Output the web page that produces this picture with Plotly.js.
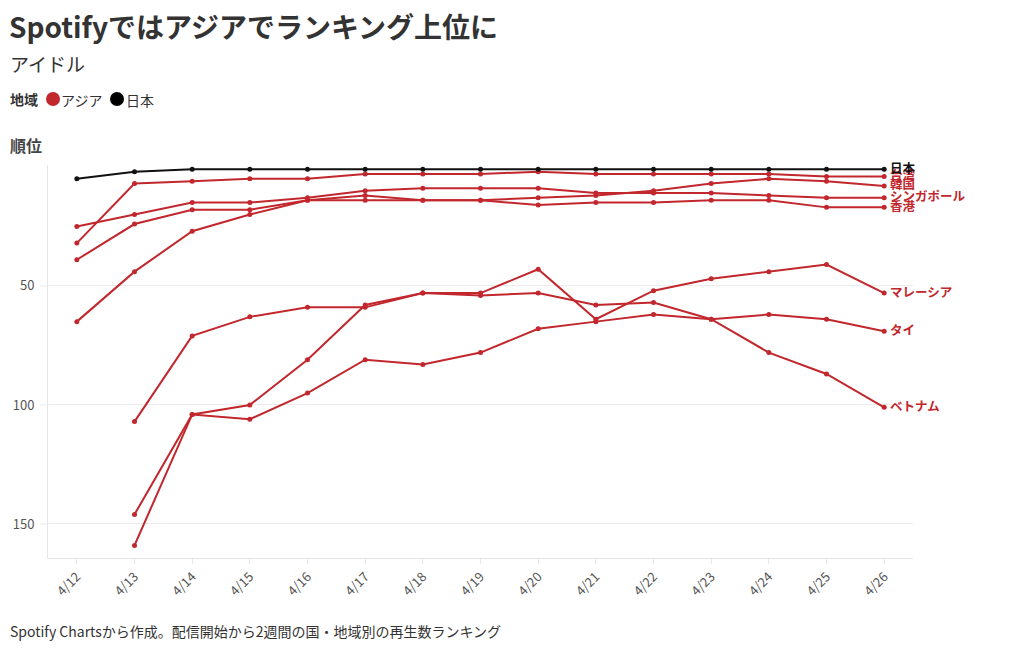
<!DOCTYPE html>
<html>
<head>
<meta charset="utf-8">
<script src="https://cdn.plot.ly/plotly-3.0.1.min.js"></script>
<style>
  html, body { margin: 0; padding: 0; background: #fff; }
  #chart { width: 1020px; height: 650px; }
</style>
</head>
<body>
<div id="chart"></div>
<script>
// ---- data (rank by date) ----
const dates = ['4/12','4/13','4/14','4/15','4/16','4/17','4/18','4/19','4/20','4/21','4/22','4/23','4/24','4/25','4/26'];
const japan     = [5, 2, 1, 1, 1, 1, 1, 1, 1, 1, 1, 1, 1, 1, 1];
const taiwan    = [32, 7, 6, 5, 5, 3, 3, 3, 2, 3, 3, 3, 3, 4, 4];
const korea     = [65, 44, 27, 20, 14, 12, 14, 14, 13, 12, 10, 7, 5, 6, 8];
const singapore = [25, 20, 15, 15, 13, 10, 9, 9, 9, 11, 11, 11, 12, 13, 13];
const hongkong  = [39, 24, 18, 18, 14, 14, 14, 14, 16, 15, 15, 14, 14, 17, 17];
const malaysia  = [null, 107, 71, 63, 59, 59, 53, 53, 43, 64, 52, 47, 44, 41, 53];
const thailand  = [null, 159, 104, 106, 95, 81, 83, 78, 68, 65, 62, 64, 62, 64, 69];
const vietnam   = [null, 146, 104, 100, 81, 58, 53, 54, 53, 58, 57, 64, 78, 87, 101];

const asiaNames  = ['台湾', '韓国', 'シンガポール', '香港', 'マレーシア', 'タイ', 'ベトナム'];
const asiaValues = [taiwan, korea, singapore, hongkong, malaysia, thailand, vietnam];
const yTicks = [50, 100, 150];
const legendTitle = '地域';
const legendNames = ['アジア', '日本'];

const RED = '#c1272d';
const BLACK = '#111111';
const FONT = '"Noto Sans CJK JP", "Noto Sans", sans-serif';
const legendColors = [RED, '#000000'];

// plot area geometry (px) used to place page-level texts in paper coordinates
const PL = 48, PR = 913, PT = 165, PB = 558;
const PW = PR - PL, PH = PB - PT;
const px = (x) => (x - PL) / PW;
const py = (y) => (PB - y) / PH;

const traces = [];
asiaNames.forEach((name, i) => {
  traces.push({
    x: dates, y: asiaValues[i], name: name, type: 'scatter', mode: 'lines+markers',
    line: { color: RED, width: 2 }, marker: { color: RED, size: 5 },
    showlegend: false, connectgaps: false
  });
});
traces.push({
  x: dates, y: japan, name: '日本', type: 'scatter', mode: 'lines+markers',
  line: { color: BLACK, width: 2 }, marker: { color: BLACK, size: 5 },
  showlegend: false
});

const last = dates.length - 1;
const annotations = [];
asiaNames.forEach((name, i) => {
  annotations.push({
    x: dates[last], y: asiaValues[i][last], xref: 'x', yref: 'y',
    text: '<b>' + name + '</b>', showarrow: false, xanchor: 'left', yanchor: 'middle',
    xshift: 4, yshift: 2, font: { family: FONT, size: 12.5, color: RED }
  });
});
annotations.push({
  x: dates[last], y: japan[last], xref: 'x', yref: 'y',
  text: '<b>日本</b>', showarrow: false, xanchor: 'left', yanchor: 'middle',
  xshift: 4, yshift: 2, font: { family: FONT, size: 12.5, color: BLACK }
});
const textAnn = (x, y, text, size, color) => ({
  xref: 'paper', yref: 'paper', x: px(x), y: py(y), xanchor: 'left', yanchor: 'middle',
  text: text, showarrow: false, borderpad: 0, xshift: -2,
  font: { family: FONT, size: size, color: color }
});
annotations.push(textAnn(11, 63, 'アイドル', 19, '#333'));
annotations.push(textAnn(11, 145, '<b>順位</b>', 16, '#444'));
annotations.push(textAnn(11, 631, 'Spotify Chartsから作成。配信開始から2週間の国・地域別の再生数ランキング', 14, '#333'));
// legend (drawn as text + circles)
annotations.push(textAnn(11, 99, '<b>' + legendTitle + '</b>', 14, '#333'));
annotations.push(textAnn(62, 100, legendNames[0], 14, '#333'));
annotations.push(textAnn(127, 100, legendNames[1], 14, '#333'));

const shapes = [];
[[53, 99], [117, 99]].forEach((c, i) => {
  shapes.push({
    type: 'circle', xref: 'paper', yref: 'paper', xsizemode: 'pixel', ysizemode: 'pixel',
    xanchor: px(c[0]), yanchor: py(c[1]), x0: -7, x1: 7, y0: -7, y1: 7,
    fillcolor: legendColors[i], line: { width: 0 }
  });
});
// short gridline stubs left of the axis line
yTicks.forEach(v => {
  shapes.push({
    type: 'line', xref: 'paper', yref: 'y', x0: px(40), x1: 0, y0: v, y1: v,
    line: { color: '#ececec', width: 1 }, layer: 'below'
  });
});

const layout = {
  width: 1020, height: 650,
  margin: { l: PL, r: 1020 - PR, t: PT, b: 650 - PB },
  paper_bgcolor: '#fff', plot_bgcolor: '#fff',
  font: { family: FONT, color: '#555' },
  title: {
    text: '<b>Spotifyではアジアでランキング上位に</b>',
    x: 9/1020, xanchor: 'left', xref: 'container', y: 1 - 28/650, yanchor: 'middle', yref: 'container',
    font: { family: FONT, size: 28, color: '#333' }
  },
  showlegend: false,
  xaxis: {
    type: 'category', range: [-0.5, 14.5], tickangle: -45,
    showgrid: false, showline: true, linecolor: '#e6e6e6', linewidth: 1,
    ticks: 'outside', ticklen: 5, tickcolor: '#e6e6e6',
    tickfont: { family: FONT, size: 13, color: '#555' }, zeroline: false, fixedrange: true
  },
  yaxis: {
    range: [164.3, -0.8], tickvals: yTicks, ticktext: yTicks.map(String),
    showgrid: true, gridcolor: '#ececec', gridwidth: 1,
    showline: true, linecolor: '#e6e6e6', linewidth: 1, zeroline: false,
    ticks: '', ticklabelstandoff: 10,
    tickfont: { family: FONT, size: 13, color: '#555' }, fixedrange: true
  },
  annotations: annotations,
  shapes: shapes,
  hovermode: false
};

Plotly.newPlot('chart', traces, layout, { displayModeBar: false, staticPlot: true });
</script>
</body>
</html>
